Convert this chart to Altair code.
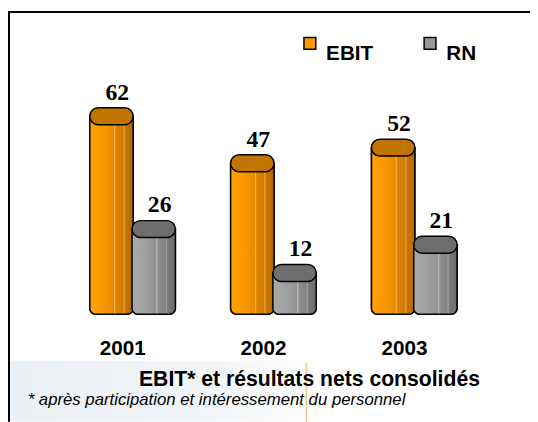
import altair as alt
import pandas as pd

years = ["2001", "2002", "2003"]
series = ["EBIT", "RN"]
ebit = [62, 47, 52]
rn = [26, 12, 21]
title_text = "EBIT* et  résultats nets consolidés"
subtitle_text = "* après participation et intéressement du personnel"

rows = []
for i, y in enumerate(years):
    rows.append({"year": y, "series": "EBIT", "value": ebit[i]})
    rows.append({"year": y, "series": "RN", "value": rn[i]})
df = pd.DataFrame(rows)

W, H = 429, 299
PL, PT = 55, 5
PR = 530 - PL - W
PB = 414 - PT - H


def grad(stops):
    return alt.LinearGradient(
        gradient="linear", x1=0, x2=1, y1=0, y2=0,
        stops=[alt.GradientStop(color=c, offset=o) for o, c in stops],
    )


orange_grad = grad([
    (0, "#ffa000"), (0.3, "#fb9800"), (0.55, "#e98b00"), (0.57, "#f5b556"),
    (0.6, "#e28500"), (0.77, "#d07b00"), (0.79, "#e8a64c"), (0.82, "#c97500"),
    (1, "#b46800"),
])
gray_grad = grad([
    (0, "#a8a8a8"), (0.3, "#a0a0a0"), (0.55, "#939393"), (0.57, "#bdbdbd"),
    (0.6, "#8f8f8f"), (0.77, "#828282"), (0.79, "#a6a6a6"), (0.82, "#7a7a7a"),
    (1, "#6a6a6a"),
])
wm_grad = grad([(0, "#ebf0f5"), (0.65, "#f2f5f8"), (1, "#ffffff")])
grads = {"EBIT": orange_grad, "RN": gray_grad}
cap_colors = {"EBIT": "#c27400", "RN": "#6e6e6e"}

xenc = alt.X("year:N", sort=years,
             scale=alt.Scale(paddingInner=0.4, paddingOuter=0.2),
             axis=alt.Axis(title=None, domain=False, ticks=False,
                           labelAngle=0, labelFont="Liberation Sans",
                           labelFontWeight="bold", labelFontSize=21,
                           labelColor="black", labelPadding=28,
                           labelOffset=-10, grid=False))
yscale = alt.Scale(domain=[0, 94], nice=False, zero=True)

base = alt.Chart(df).transform_calculate(
    lo="-1.2", capTop="datum.value + 2.7", capBot="datum.value - 2.7"
).encode(
    x=xenc,
    xOffset=alt.XOffset("series:N", sort=series),
)

bar_y = dict(y=alt.Y("value:Q", scale=yscale, axis=None), y2=alt.Y2("lo:Q"))

legend_bars = base.mark_bar(
    width=44, stroke="black", strokeWidth=1.5,
    cornerRadiusBottomLeft=6, cornerRadiusBottomRight=6,
).encode(
    **bar_y,
    color=alt.Color("series:N", sort=series,
                    scale=alt.Scale(domain=series, range=["#ff9900", "#999999"]),
                    legend=alt.Legend(title=None, orient="none", direction="horizontal",
                                      legendX=241, legendY=17, symbolType="square",
                                      symbolSize=144, symbolStrokeColor="black",
                                      symbolStrokeWidth=1.5, symbolOpacity=1,
                                      labelFont="Liberation Sans", labelFontWeight="bold",
                                      labelFontSize=21, labelColor="black",
                                      labelOffset=6, columnPadding=47, padding=0,
                                      labelBaseline="top")),
)

layers = [legend_bars]

deco_df = pd.DataFrame({"k": [0]})
layers.append(alt.Chart(deco_df).mark_rect(color=wm_grad).encode(
    x=alt.value(-55), x2=alt.value(265), y=alt.value(350), y2=alt.value(412)))
layers.append(alt.Chart(deco_df).mark_rule(color="#f0c77c", strokeWidth=1.5).encode(
    x=alt.value(248), y=alt.value(352), y2=alt.value(412)))
layers.append(alt.Chart(deco_df).mark_rule(color="black", strokeWidth=2).encode(
    x=alt.value(-55), x2=alt.value(475), y=alt.value(-4)))
layers.append(alt.Chart(deco_df).mark_rule(color="black", strokeWidth=2).encode(
    x=alt.value(-54), y=alt.value(-5), y2=alt.value(412)))

for s in series:
    sub = base.transform_filter(alt.datum.series == s)
    layers.append(sub.mark_bar(
        width=44, color=grads[s], stroke="black", strokeWidth=1.5,
        cornerRadiusBottomLeft=6, cornerRadiusBottomRight=6,
    ).encode(**bar_y))
    layers.append(sub.mark_bar(
        width=44, color=cap_colors[s], stroke="black", strokeWidth=1.5,
        cornerRadius=8.5,
    ).encode(y=alt.Y("capTop:Q", scale=yscale, axis=None), y2=alt.Y2("capBot:Q")))

labels = base.mark_text(font="Liberation Serif", fontWeight="bold", fontSize=24,
                        baseline="alphabetic", dy=-17, dx=6, color="black").encode(
    y=alt.Y("value:Q", scale=yscale, axis=None),
    text=alt.Text("value:Q"))
layers.append(labels)

layers.append(alt.Chart(pd.DataFrame({"t": [title_text]})).mark_text(
    font="Liberation Sans", fontWeight="bold", fontSize=21.5, align="left",
    baseline="alphabetic", color="black").encode(
    text="t:N", x=alt.value(78), y=alt.value(376)))
layers.append(alt.Chart(pd.DataFrame({"t": [subtitle_text]})).mark_text(
    font="Liberation Sans", fontStyle="italic", fontSize=17, align="left",
    baseline="alphabetic", color="black").encode(
    text="t:N", x=alt.value(-35), y=alt.value(395)))

chart = alt.layer(*layers).properties(
    width=W, height=H,
    padding={"left": PL, "top": PT, "right": PR, "bottom": PB},
    autosize=alt.AutoSizeParams(type="none"),
    background="white",
).configure_view(stroke=None)

chart.save("out.html", embed_options={"renderer": "svg", "actions": False})
